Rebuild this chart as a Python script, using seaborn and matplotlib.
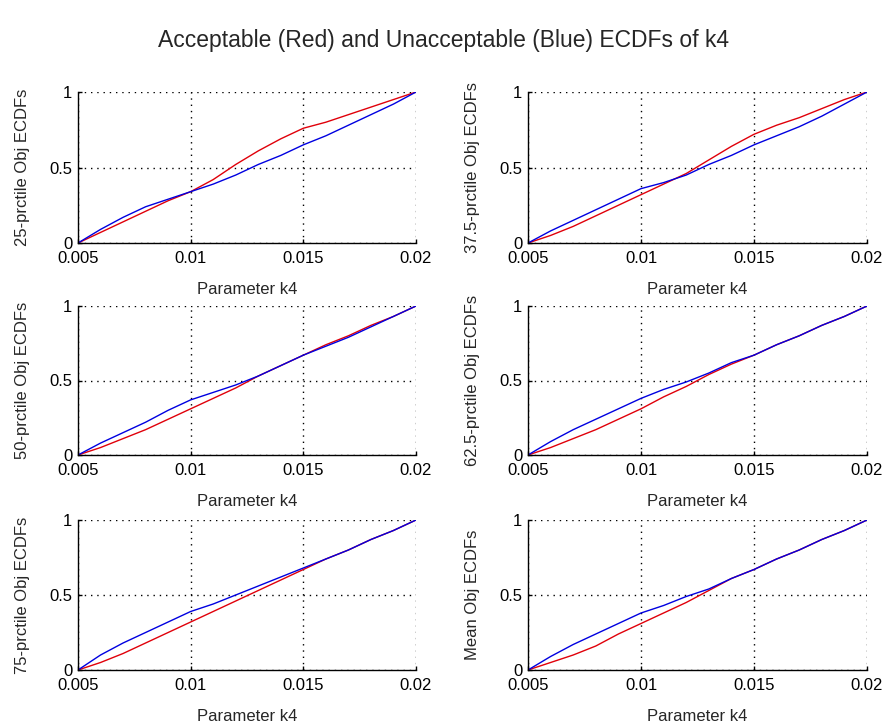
import matplotlib
matplotlib.use("Agg")
import matplotlib.pyplot as plt
import seaborn as sns
import pandas as pd

# ---- data ----
k4 = [0.005, 0.006, 0.007, 0.008, 0.009, 0.010, 0.011, 0.012,
      0.013, 0.014, 0.015, 0.016, 0.017, 0.018, 0.019, 0.020]

labels = ["25-prctile Obj ECDFs", "37.5-prctile Obj ECDFs",
          "50-prctile Obj ECDFs", "62.5-prctile Obj ECDFs",
          "75-prctile Obj ECDFs", "Mean Obj ECDFs"]

red_25 = [0, 0.07, 0.14, 0.21, 0.28, 0.34, 0.42, 0.52, 0.61, 0.69, 0.76, 0.80, 0.85, 0.90, 0.95, 1.0]
blue_25 = [0, 0.09, 0.17, 0.24, 0.29, 0.34, 0.39, 0.45, 0.52, 0.58, 0.65, 0.71, 0.78, 0.85, 0.92, 1.0]

red_375 = [0, 0.05, 0.11, 0.18, 0.25, 0.32, 0.39, 0.46, 0.55, 0.64, 0.72, 0.78, 0.83, 0.89, 0.95, 1.0]
blue_375 = [0, 0.08, 0.15, 0.22, 0.29, 0.36, 0.40, 0.45, 0.52, 0.58, 0.65, 0.71, 0.77, 0.84, 0.92, 1.0]

red_50 = [0, 0.05, 0.11, 0.17, 0.24, 0.31, 0.38, 0.45, 0.53, 0.60, 0.67, 0.74, 0.80, 0.87, 0.93, 1.0]
blue_50 = [0, 0.08, 0.15, 0.22, 0.30, 0.37, 0.42, 0.47, 0.53, 0.60, 0.67, 0.73, 0.79, 0.86, 0.93, 1.0]

red_625 = [0, 0.05, 0.11, 0.17, 0.24, 0.31, 0.39, 0.46, 0.54, 0.61, 0.67, 0.74, 0.80, 0.87, 0.93, 1.0]
blue_625 = [0, 0.09, 0.17, 0.24, 0.31, 0.38, 0.44, 0.49, 0.55, 0.62, 0.67, 0.74, 0.80, 0.87, 0.93, 1.0]

red_75 = [0, 0.05, 0.11, 0.18, 0.25, 0.32, 0.39, 0.46, 0.53, 0.60, 0.67, 0.74, 0.80, 0.87, 0.93, 1.0]
blue_75 = [0, 0.10, 0.18, 0.25, 0.32, 0.39, 0.44, 0.50, 0.56, 0.62, 0.68, 0.74, 0.80, 0.87, 0.93, 1.0]

red_mean = [0, 0.05, 0.10, 0.16, 0.24, 0.31, 0.38, 0.45, 0.53, 0.61, 0.67, 0.74, 0.80, 0.87, 0.93, 1.0]
blue_mean = [0, 0.09, 0.17, 0.24, 0.31, 0.38, 0.43, 0.49, 0.54, 0.61, 0.67, 0.74, 0.80, 0.87, 0.93, 1.0]

reds = [red_25, red_375, red_50, red_625, red_75, red_mean]
blues = [blue_25, blue_375, blue_50, blue_625, blue_75, blue_mean]

xticks = [0.005, 0.01, 0.015, 0.02]
xticklabels = ["0.005", "0.01", "0.015", "0.02"]
yticks = [0, 0.5, 1]
yticklabels = ["0", "0.5", "1"]

# ---- style ----
sns.set_style("white")
plt.rcParams['font.family'] = ['Liberation Sans', 'DejaVu Sans']

fig = plt.figure(figsize=(8.86, 7.25), dpi=100)
fig.patch.set_facecolor("white")

W = 886.0
H = 725.0
lefts = [78, 528]
widths = [338, 339]
rows = [(92, 243), (306, 455), (520, 670)]

for i in range(6):
    r, c = divmod(i, 2)
    top, bot = rows[r]
    ax = fig.add_axes([lefts[c] / W, 1 - bot / H, widths[c] / W, (bot - top) / H])
    df = pd.DataFrame({"k4": k4, "red": reds[i], "blue": blues[i]})
    sns.lineplot(data=df, x="k4", y="red", color="#e0000a", lw=1.0, ax=ax)
    sns.lineplot(data=df, x="k4", y="blue", color="#0000e0", lw=1.0, ax=ax)
    ax.set_xlim(0.005, 0.02)
    ax.set_ylim(0, 1)
    ax.set_xticks(xticks)
    ax.set_xticklabels(xticklabels)
    ax.set_yticks(yticks)
    ax.set_yticklabels(yticklabels)
    ax.grid(True, color="black", linestyle=(0, (1, 3.5)), linewidth=1.0)
    for s in ["top", "right"]:
        ax.spines[s].set_visible(False)
    for s in ["left", "bottom"]:
        ax.spines[s].set_color("black")
        ax.spines[s].set_linewidth(1.0)
    ax.tick_params(direction="in", length=3, width=1, colors="black",
                   labelsize=12, left=True, bottom=True)
    ax.tick_params(axis="x", pad=6)
    ax.tick_params(axis="y", pad=4)
    ax.set_xlabel("Parameter k4", fontsize=12, labelpad=11)
    ax.set_ylabel(labels[i], fontsize=12, labelpad=14)
    ax.set_facecolor("white")

fig.text(0.5, 1 - 40 / H, "Acceptable (Red) and Unacceptable (Blue) ECDFs of k4",
         ha="center", va="center", fontsize=16.5)

fig.savefig("out.png", dpi=100, facecolor="white")
